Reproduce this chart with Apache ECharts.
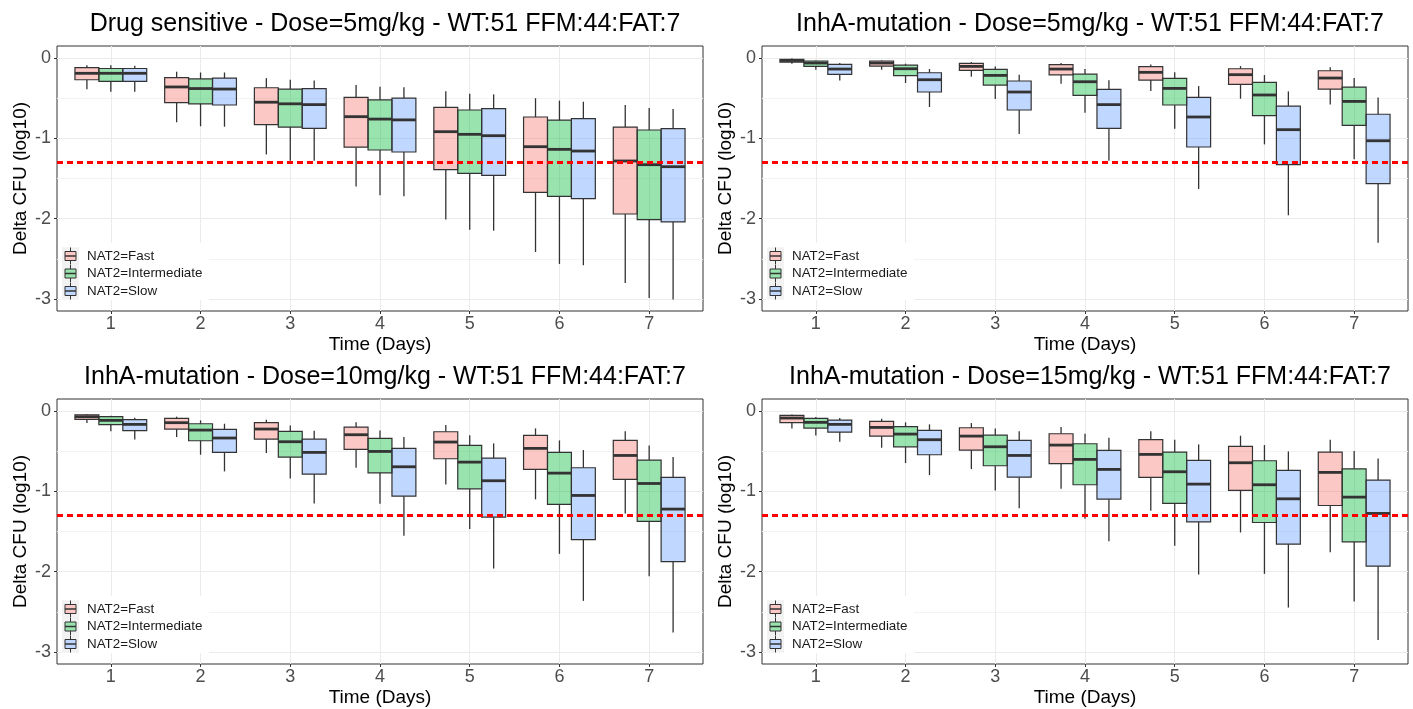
<!DOCTYPE html>
<html>
<head>
<meta charset="utf-8">
<title>Delta CFU by NAT2 acetylator status</title>
<script src="https://cdn.jsdelivr.net/npm/echarts@6/dist/echarts.min.js"></script>
<style>
  html, body { margin: 0; padding: 0; background: #fff; }
  #chart { width: 1413px; height: 709px; }
</style>
</head>
<body>
<div id="chart"></div>
<script>
// Sampling days and y-axis ticks
const days = [1, 2, 3, 4, 5, 6, 7];
const yTicks = [-3, -2, -1, 0];
const yMinorTicks = [-2.5, -1.5, -0.5];
const groupNames = ['NAT2=Fast', 'NAT2=Intermediate', 'NAT2=Slow'];
const panelTitles = [
  'Drug sensitive - Dose=5mg/kg - WT:51 FFM:44:FAT:7',
  'InhA-mutation - Dose=5mg/kg - WT:51 FFM:44:FAT:7',
  'InhA-mutation - Dose=10mg/kg - WT:51 FFM:44:FAT:7',
  'InhA-mutation - Dose=15mg/kg - WT:51 FFM:44:FAT:7'
];
const cutoff = -1.3;

// Box statistics per day: [lower whisker, Q1, median, Q3, upper whisker]
// Drug sensitive, 5 mg/kg
const ds5Fast = [
  [-0.39, -0.27, -0.19, -0.12, -0.09],
  [-0.80, -0.556, -0.36, -0.245, -0.17],
  [-1.20, -0.83, -0.55, -0.37, -0.25],
  [-1.60, -1.11, -0.73, -0.49, -0.336],
  [-2.01, -1.39, -0.917, -0.614, -0.415],
  [-2.415, -1.672, -1.104, -0.734, -0.50],
  [-2.80, -1.942, -1.282, -0.859, -0.585]
];
const ds5Inter = [
  [-0.42, -0.29, -0.19, -0.13, -0.09],
  [-0.85, -0.57, -0.38, -0.26, -0.18],
  [-1.28, -0.86, -0.57, -0.386, -0.27],
  [-1.71, -1.145, -0.76, -0.52, -0.357],
  [-2.137, -1.436, -0.95, -0.647, -0.444],
  [-2.564, -1.722, -1.137, -0.772, -0.53],
  [-2.988, -2.012, -1.328, -0.896, -0.622]
];
const ds5Slow = [
  [-0.42, -0.29, -0.19, -0.13, -0.095],
  [-0.855, -0.585, -0.386, -0.25, -0.18],
  [-1.28, -0.875, -0.58, -0.38, -0.28],
  [-1.72, -1.17, -0.77, -0.50, -0.365],
  [-2.15, -1.46, -0.967, -0.63, -0.452],
  [-2.58, -1.751, -1.158, -0.755, -0.544],
  [-3.008, -2.041, -1.353, -0.88, -0.635]
];

// InhA-mutation, 5 mg/kg
const inh5Fast = [
  [-0.07, -0.05, -0.03, -0.015, -0.005],
  [-0.145, -0.10, -0.062, -0.037, -0.03],
  [-0.232, -0.154, -0.104, -0.066, -0.05],
  [-0.32, -0.21, -0.137, -0.083, -0.062],
  [-0.41, -0.274, -0.178, -0.108, -0.079],
  [-0.506, -0.328, -0.207, -0.133, -0.10],
  [-0.58, -0.386, -0.249, -0.158, -0.116]
];
const inh5Inter = [
  [-0.145, -0.104, -0.062, -0.037, -0.03],
  [-0.31, -0.22, -0.133, -0.087, -0.07],
  [-0.51, -0.336, -0.216, -0.141, -0.104],
  [-0.68, -0.465, -0.295, -0.20, -0.137],
  [-0.88, -0.585, -0.378, -0.253, -0.178],
  [-1.075, -0.718, -0.46, -0.303, -0.212],
  [-1.26, -0.838, -0.54, -0.361, -0.249]
];
const inh5Slow = [
  [-0.28, -0.203, -0.137, -0.079, -0.062],
  [-0.61, -0.423, -0.27, -0.183, -0.137],
  [-0.946, -0.647, -0.423, -0.286, -0.207],
  [-1.28, -0.875, -0.58, -0.39, -0.278],
  [-1.63, -1.108, -0.734, -0.49, -0.349],
  [-1.958, -1.328, -0.892, -0.598, -0.415],
  [-2.30, -1.564, -1.03, -0.70, -0.49]
];

// InhA-mutation, 10 mg/kg
const inh10Fast = [
  [-0.15, -0.104, -0.07, -0.046, -0.037],
  [-0.324, -0.224, -0.145, -0.091, -0.07],
  [-0.523, -0.349, -0.224, -0.145, -0.108],
  [-0.706, -0.478, -0.295, -0.20, -0.141],
  [-0.914, -0.594, -0.386, -0.258, -0.174],
  [-1.10, -0.727, -0.465, -0.303, -0.216],
  [-1.275, -0.852, -0.553, -0.366, -0.253]
];
const inh10Inter = [
  [-0.253, -0.17, -0.116, -0.07, -0.058],
  [-0.544, -0.37, -0.237, -0.158, -0.116],
  [-0.839, -0.573, -0.382, -0.253, -0.179],
  [-1.155, -0.769, -0.503, -0.341, -0.241],
  [-1.47, -0.968, -0.636, -0.428, -0.30],
  [-1.778, -1.163, -0.773, -0.515, -0.366],
  [-2.057, -1.375, -0.902, -0.611, -0.428]
];
const inh10Slow = [
  [-0.353, -0.245, -0.166, -0.108, -0.083],
  [-0.752, -0.515, -0.336, -0.228, -0.158],
  [-1.15, -0.785, -0.515, -0.349, -0.245],
  [-1.554, -1.06, -0.694, -0.465, -0.324],
  [-1.961, -1.321, -0.868, -0.586, -0.403],
  [-2.364, -1.60, -1.051, -0.706, -0.486],
  [-2.759, -1.874, -1.221, -0.827, -0.573]
];

// InhA-mutation, 15 mg/kg
const inh15Fast = [
  [-0.216, -0.145, -0.087, -0.054, -0.042],
  [-0.457, -0.312, -0.204, -0.129, -0.096],
  [-0.723, -0.486, -0.312, -0.208, -0.15],
  [-0.968, -0.656, -0.424, -0.283, -0.20],
  [-1.242, -0.827, -0.54, -0.357, -0.253],
  [-1.512, -0.989, -0.644, -0.44, -0.307],
  [-1.757, -1.176, -0.764, -0.511, -0.357]
];
const inh15Inter = [
  [-0.303, -0.212, -0.141, -0.091, -0.075],
  [-0.648, -0.445, -0.287, -0.195, -0.141],
  [-0.989, -0.681, -0.445, -0.30, -0.216],
  [-1.342, -0.918, -0.602, -0.407, -0.283],
  [-1.678, -1.151, -0.756, -0.511, -0.357],
  [-2.027, -1.388, -0.918, -0.619, -0.424],
  [-2.372, -1.629, -1.072, -0.719, -0.499]
];
const inh15Slow = [
  [-0.382, -0.262, -0.166, -0.112, -0.087],
  [-0.798, -0.544, -0.357, -0.241, -0.166],
  [-1.209, -0.823, -0.553, -0.366, -0.253],
  [-1.62, -1.097, -0.727, -0.49, -0.332],
  [-2.036, -1.379, -0.91, -0.615, -0.415],
  [-2.447, -1.658, -1.093, -0.74, -0.503],
  [-2.85, -1.932, -1.275, -0.86, -0.59]
];

const panelData = [
  [ds5Fast, ds5Inter, ds5Slow],
  [inh5Fast, inh5Inter, inh5Slow],
  [inh10Fast, inh10Inter, inh10Slow],
  [inh15Fast, inh15Inter, inh15Slow]
];

// ---- styling ----
const FONT = "'Liberation Sans', Arial, Helvetica, sans-serif";
const fills = ['rgba(248,118,109,0.4)', 'rgba(0,186,56,0.4)', 'rgba(97,156,255,0.4)'];
const INK = '#333333';
const DODGE = 0.8;                 // total dodge width per day
const BOX_W = DODGE / 3;           // width of one box in axis units
const offsets = [-BOX_W, 0, BOX_W];

const grids = [
  { left: 57,  top: 46,  width: 646, height: 265 },
  { left: 762, top: 46,  width: 646, height: 265 },
  { left: 57,  top: 399, width: 646, height: 265 },
  { left: 762, top: 399, width: 646, height: 265 }
];

// one boxplot glyph: whiskers, box, thick median line
function boxRenderer(offset) {
  return function (params, api) {
    const x = api.value(0) + offset;
    const lo = api.coord([x, api.value(1)]);
    const q1 = api.coord([x, api.value(2)]);
    const md = api.coord([x, api.value(3)]);
    const q3 = api.coord([x, api.value(4)]);
    const hi = api.coord([x, api.value(5)]);
    const w = api.size([BOX_W, 0])[0];
    const cx = md[0];
    const fill = fills[params.seriesIndex % 3];
    return {
      type: 'group',
      children: [
        { type: 'line', shape: { x1: cx, y1: hi[1], x2: cx, y2: q3[1] },
          style: { stroke: INK, lineWidth: 1.3 } },
        { type: 'line', shape: { x1: cx, y1: q1[1], x2: cx, y2: lo[1] },
          style: { stroke: INK, lineWidth: 1.3 } },
        { type: 'rect', shape: { x: cx - w / 2, y: q3[1], width: w, height: q1[1] - q3[1] },
          style: { fill: fill, stroke: INK, lineWidth: 1.2 } },
        { type: 'line', shape: { x1: cx - w / 2, y1: md[1], x2: cx + w / 2, y2: md[1] },
          style: { stroke: INK, lineWidth: 2.8 } }
      ]
    };
  };
}

const option = {
  animation: false,
  backgroundColor: '#ffffff',
  textStyle: { fontFamily: FONT },
  title: [],
  grid: [],
  xAxis: [],
  yAxis: [],
  series: [],
  graphic: []
};

grids.forEach(function (g, i) {
  option.grid.push({
    left: g.left, top: g.top, width: g.width, height: g.height,
    show: true, borderColor: INK, borderWidth: 1, backgroundColor: 'transparent'
  });
  option.title.push({
    text: panelTitles[i],
    left: g.left + g.width / 2,
    top: g.top - 39,
    textAlign: 'center',
    textStyle: { fontFamily: FONT, fontSize: 25, fontWeight: 'normal', color: '#000' }
  });
  option.xAxis.push({
    gridIndex: i, type: 'value', min: 0.4, max: 7.6, position: 'bottom',
    axisLine: { show: false, onZero: false },
    axisTick: { show: true, length: 3, customValues: days, lineStyle: { color: INK, width: 1 } },
    axisLabel: { customValues: days, color: '#4D4D4D', fontSize: 18, margin: 4, fontFamily: FONT },
    splitLine: { show: true, lineStyle: { color: '#EBEBEB', width: 1 } },
    name: 'Time (Days)', nameLocation: 'middle', nameGap: 24,
    nameTextStyle: { fontSize: 19, color: '#000', fontFamily: FONT }
  });
});

// major y axes (one per panel)
grids.forEach(function (g, i) {
  option.yAxis.push({
    gridIndex: i, type: 'value', min: -3.15, max: 0.15, position: 'left',
    axisLine: { show: false, onZero: false },
    axisTick: { show: true, length: 3, customValues: yTicks, lineStyle: { color: INK, width: 1 } },
    axisLabel: { customValues: yTicks, color: '#4D4D4D', fontSize: 18, margin: 6, fontFamily: FONT },
    splitLine: { show: true, lineStyle: { color: '#EBEBEB', width: 1 } },
    name: 'Delta CFU (log10)', nameLocation: 'middle', nameGap: 27,
    nameTextStyle: { fontSize: 19, color: '#000', fontFamily: FONT }
  });
});
// minor y grid lines (one hidden axis per panel)
grids.forEach(function (g, i) {
  option.yAxis.push({
    gridIndex: i, type: 'value', min: -3.15, max: 0.15, position: 'right',
    axisLine: { show: false, onZero: false },
    axisTick: { show: false, customValues: yMinorTicks },
    axisLabel: { show: false, customValues: yMinorTicks },
    splitLine: { show: true, lineStyle: { color: '#F3F3F3', width: 1 } }
  });
});

panelData.forEach(function (groups, p) {
  groups.forEach(function (stats, k) {
    const s = {
      type: 'custom',
      name: groupNames[k],
      xAxisIndex: p, yAxisIndex: p,
      renderItem: boxRenderer(offsets[k]),
      encode: { x: 0, y: [1, 2, 3, 4, 5] },
      data: days.map(function (d, j) { return [d].concat(stats[j]); }),
      silent: true
    };
    if (k === 2) {
      s.markLine = {
        silent: true, symbol: ['none', 'none'], label: { show: false },
        lineStyle: { color: '#FF0000', width: 3, type: [6, 4] },
        data: [{ yAxis: cutoff }]
      };
    }
    option.series.push(s);
  });
});

// in-panel legends (bottom-left corner of each panel)
grids.forEach(function (g) {
  const B = g.top + g.height;
  const cx = g.left + 13.5;
  const rows = [B - 55, B - 37.5, B - 20];
  option.graphic.push({ type: 'rect', z: 10, silent: true,
    shape: { x: g.left + 4, y: B - 68, width: 148, height: 57 }, style: { fill: '#ffffff' } });
  option.graphic.push({ type: 'rect', z: 10, silent: true,
    shape: { x: g.left + 5, y: B - 63.75, width: 17, height: 52.5 }, style: { fill: '#F2F2F2' } });
  rows.forEach(function (cy, k) {
    option.graphic.push({ type: 'line', z: 11, silent: true,
      shape: { x1: cx, y1: cy - 8.5, x2: cx, y2: cy + 8.5 }, style: { stroke: INK, lineWidth: 1 } });
    option.graphic.push({ type: 'rect', z: 11, silent: true,
      shape: { x: cx - 5.5, y: cy - 4.5, width: 11, height: 9 },
      style: { fill: '#ffffff', stroke: null } });
    option.graphic.push({ type: 'rect', z: 12, silent: true,
      shape: { x: cx - 5.5, y: cy - 4.5, width: 11, height: 9 },
      style: { fill: fills[k], stroke: INK, lineWidth: 1 } });
    option.graphic.push({ type: 'line', z: 12, silent: true,
      shape: { x1: cx - 5.5, y1: cy, x2: cx + 5.5, y2: cy }, style: { stroke: INK, lineWidth: 1.5 } });
    option.graphic.push({ type: 'text', z: 12, silent: true,
      x: g.left + 30, y: cy,
      style: { text: groupNames[k], fill: '#1A1A1A', font: '13.4px ' + FONT, verticalAlign: 'middle', align: 'left' } });
  });
});

const chart = echarts.init(document.getElementById('chart'), null, { renderer: 'canvas' });
chart.setOption(option);
</script>
</body>
</html>
